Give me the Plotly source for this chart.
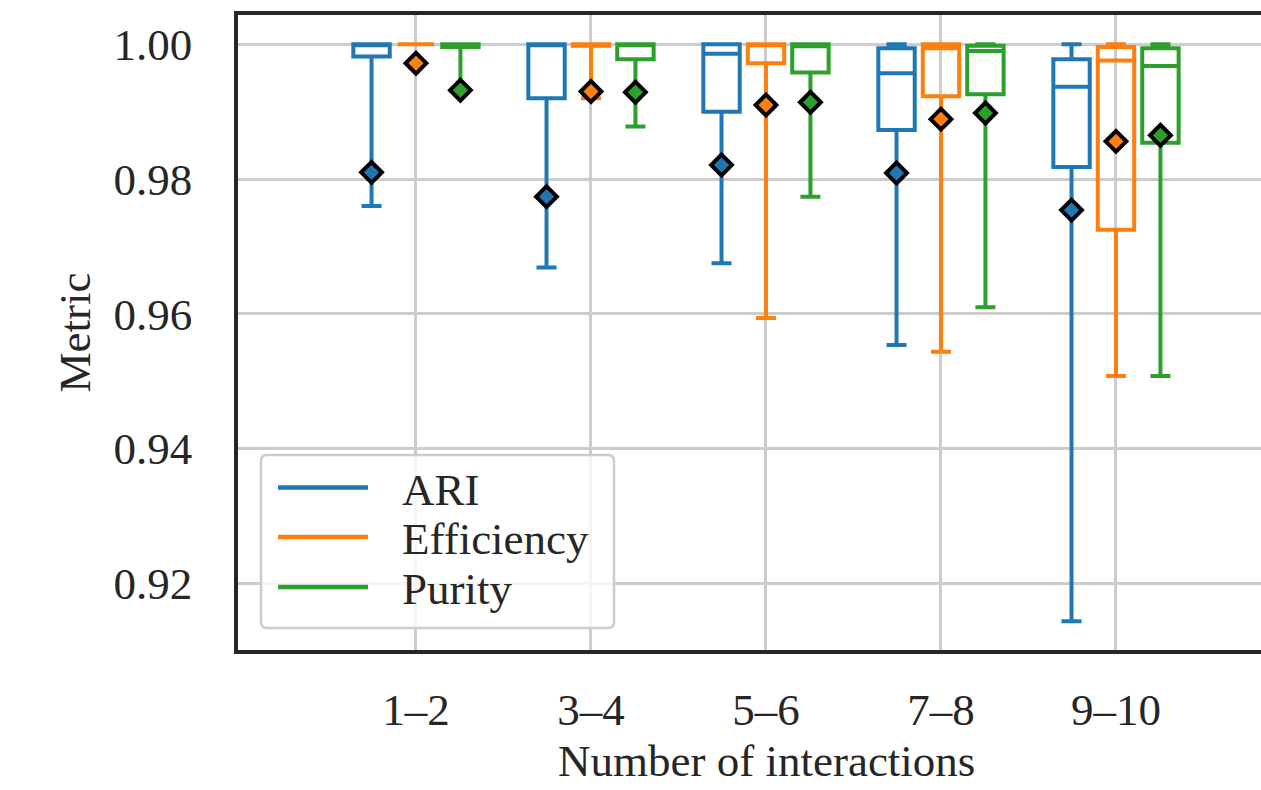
import plotly.graph_objects as go

# Interaction-count bins
categories = ["1–2", "3–4", "5–6", "7–8", "9–10"]
metrics = ["ARI", "Efficiency", "Purity"]
colors = ["#1f77b4", "#ff7f0e", "#2ca02c"]

# Box statistics per metric, one value per bin
ari_lower = [0.9760, 0.9669, 0.9675, 0.9554, 0.9144]
ari_q1 = [0.9982, 0.9920, 0.9900, 0.9873, 0.9818]
ari_median = [1.0000, 1.0000, 0.9986, 0.9957, 0.9937]
ari_q3 = [1.0000, 1.0000, 1.0000, 0.9994, 0.9978]
ari_upper = [1.0000, 1.0000, 1.0000, 1.0000, 1.0000]
ari_mean = [0.9810, 0.9774, 0.9821, 0.9809, 0.9754]

eff_lower = [1.0000, 0.9920, 0.9594, 0.9544, 0.9508]
eff_q1 = [1.0000, 0.9998, 0.9972, 0.9923, 0.9725]
eff_median = [1.0000, 1.0000, 1.0000, 0.9994, 0.9976]
eff_q3 = [1.0000, 1.0000, 1.0000, 1.0000, 0.9996]
eff_upper = [1.0000, 1.0000, 1.0000, 1.0000, 1.0000]
eff_mean = [0.9972, 0.9930, 0.9910, 0.9889, 0.9856]

pur_lower = [0.9934, 0.9878, 0.9774, 0.9610, 0.9508]
pur_q1 = [0.9996, 0.9978, 0.9958, 0.9926, 0.9854]
pur_median = [1.0000, 1.0000, 0.9997, 0.9990, 0.9968]
pur_q3 = [1.0000, 1.0000, 1.0000, 0.9998, 0.9994]
pur_upper = [1.0000, 1.0000, 1.0000, 1.0000, 1.0000]
pur_mean = [0.9932, 0.9929, 0.9914, 0.9898, 0.9865]

y_ticks = [0.92, 0.94, 0.96, 0.98, 1.00]

stats = {
    "ARI": (ari_lower, ari_q1, ari_median, ari_q3, ari_upper, ari_mean),
    "Efficiency": (eff_lower, eff_q1, eff_median, eff_q3, eff_upper, eff_mean),
    "Purity": (pur_lower, pur_q1, pur_median, pur_q3, pur_upper, pur_mean),
}

FONT = "Liberation Serif"
FS = 45
TEXT = "#262626"
GRID = "#cccccc"

W, H = 1261, 790
ML, MR, MT, MB = 238, 0, 15, 140
PW, PH = W - ML - MR, H - MT - MB

offsets = [-0.254, 0.0, 0.254]
box_width = 0.208

fig = go.Figure()
for k, name in enumerate(metrics):
    lo, q1, med, q3, up, mean = stats[name]
    xs = [i + offsets[k] for i in range(len(categories))]
    fig.add_trace(go.Box(
        x=xs, q1=q1, median=med, q3=q3, lowerfence=lo, upperfence=up,
        name=name, width=box_width, whiskerwidth=0.55,
        line=dict(color=colors[k], width=4),
        fillcolor="rgba(255,255,255,0)", boxpoints=False,
        showlegend=False, hoverinfo="skip",
    ))
for k, name in enumerate(metrics):
    mean = stats[name][5]
    xs = [i + offsets[k] for i in range(len(categories))]
    fig.add_trace(go.Scatter(
        x=xs, y=mean, mode="markers", showlegend=False,
        marker=dict(symbol="diamond", size=16, color=colors[k],
                    line=dict(color="black", width=4)),
    ))


def px_x(px):
    return (px - ML) / PW


def px_y(py):
    return (H - MB - py) / PH


# Legend frame with rounded corners
lx0, lx1, ly0, ly1, r = px_x(261), px_x(614), px_y(628), px_y(455), 6
rx, ry = r / PW, r / PH
path = (f"M{lx0+rx},{ly1} L{lx1-rx},{ly1} Q{lx1},{ly1} {lx1},{ly1-ry} "
        f"L{lx1},{ly0+ry} Q{lx1},{ly0} {lx1-rx},{ly0} L{lx0+rx},{ly0} "
        f"Q{lx0},{ly0} {lx0},{ly0+ry} L{lx0},{ly1-ry} Q{lx0},{ly1} {lx0+rx},{ly1} Z")
shapes = [dict(type="path", xref="paper", yref="paper", path=path,
               fillcolor="rgba(255,255,255,0.8)",
               line=dict(color=GRID, width=2.5), layer="above")]
annotations = []
row_y = [487.5, 537, 587]
for k, name in enumerate(metrics):
    yy = px_y(row_y[k])
    shapes.append(dict(type="line", xref="paper", yref="paper",
                       x0=px_x(278), x1=px_x(368), y0=yy, y1=yy,
                       line=dict(color=colors[k], width=4.5), layer="above"))
    annotations.append(dict(text=name, xref="paper", yref="paper",
                            x=px_x(400), y=px_y(row_y[k] + 2), xanchor="left",
                            yanchor="middle", showarrow=False,
                            font=dict(family=FONT, size=FS, color=TEXT)))

annotations.append(dict(text="Number of interactions", xref="paper", yref="paper",
                        x=px_x(766), y=px_y(761), xanchor="center", yanchor="middle",
                        showarrow=False, font=dict(family=FONT, size=FS, color=TEXT)))

x_lo = -1.017
x_hi = x_lo + PW / 175.0

fig.update_layout(
    width=W, height=H,
    margin=dict(l=ML, r=MR, t=MT, b=MB, pad=0),
    paper_bgcolor="white", plot_bgcolor="white",
    font=dict(family=FONT, size=FS, color=TEXT),
    shapes=shapes, annotations=annotations,
    xaxis=dict(
        range=[x_lo, x_hi], tickvals=list(range(len(categories))),
        ticktext=categories, showgrid=True, gridcolor=GRID, gridwidth=2.5,
        zeroline=False, showline=True, linecolor=TEXT, linewidth=3.5,
        mirror=True, ticks="outside", ticklen=17, tickcolor="rgba(0,0,0,0)",
        tickfont=dict(family=FONT, size=FS, color=TEXT),
    ),
    yaxis=dict(
        range=[0.91013, 1.00435], tickvals=y_ticks,
        ticktext=[f"{v:.2f}" for v in y_ticks],
        showgrid=True, gridcolor=GRID, gridwidth=2.5, zeroline=False,
        showline=True, linecolor=TEXT, linewidth=3.5,
        ticks="outside", ticklen=33, tickcolor="rgba(0,0,0,0)",
        tickfont=dict(family=FONT, size=FS, color=TEXT),
        title=dict(text="Metric", standoff=10,
                   font=dict(family=FONT, size=FS, color=TEXT)),
        automargin=False,
    ),
)

fig.write_html("out.html")
